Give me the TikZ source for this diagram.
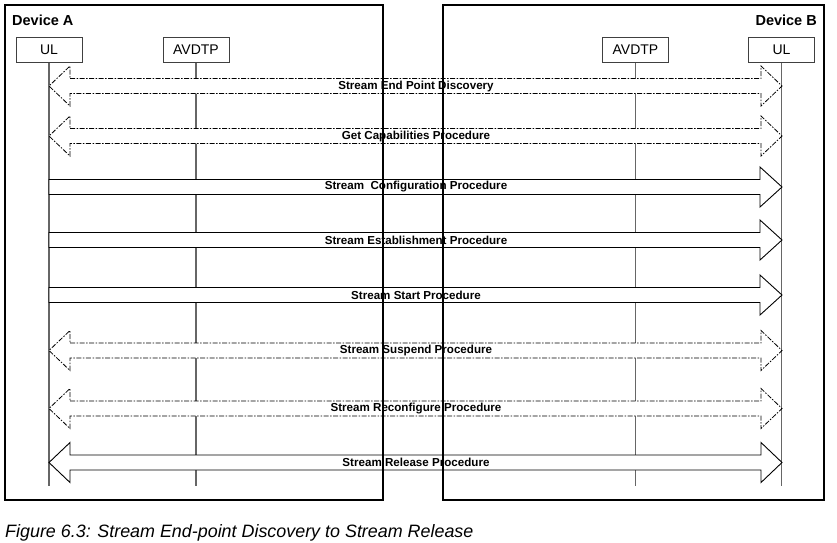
\documentclass[tikz,border=0pt]{standalone}
\usepackage{fontspec}
\setmainfont{Liberation Sans}
\usetikzlibrary{calc}
\newcommand\msgR[4]{% name, y, style, label
  \coordinate (#1L) at (ulAx |- 0,#2);
  \coordinate (#1R) at (ulBx |- 0,#2);
  \draw[#3] ([yshift=7.5pt]#1L) -- ([xshift=-22pt,yshift=7.5pt]#1R)
     -- ([xshift=-22pt,yshift=20pt]#1R) -- (#1R)
     -- ([xshift=-22pt,yshift=-20pt]#1R) -- ([xshift=-22pt,yshift=-7.5pt]#1R)
     -- ([yshift=-7.5pt]#1L) -- cycle;
  \node[lbl] (#1t) at (416,#2) {#4};}
\newcommand\msgD[4]{% name, y, style, label
  \coordinate (#1L) at (ulAx |- 0,#2);
  \coordinate (#1R) at (ulBx |- 0,#2);
  \draw[#3] ([xshift=21pt,yshift=7.5pt]#1L) -- ([xshift=-21pt,yshift=7.5pt]#1R)
     -- ([xshift=-21pt,yshift=20pt]#1R) -- (#1R)
     -- ([xshift=-21pt,yshift=-20pt]#1R) -- ([xshift=-21pt,yshift=-7.5pt]#1R)
     -- ([xshift=21pt,yshift=-7.5pt]#1L) -- ([xshift=21pt,yshift=-20pt]#1L)
     -- (#1L) -- ([xshift=21pt,yshift=20pt]#1L) -- cycle;
  \node[lbl] (#1t) at (416,#2) {#4};}
\begin{document}
\begin{tikzpicture}[x=1pt,y=-1pt,
  device/.style={draw=black,line width=1.4pt},
  hdr/.style={draw=black!75,line width=0.8pt,fill=white,minimum width=66pt,minimum height=25pt,inner sep=0pt,font=\fontsize{14}{16}\selectfont},
  life/.style={draw=black!60,line width=1.5pt},
  solidarrow/.style={draw=black,line width=0.9pt,fill=white,line join=miter},
  dasharrow/.style={draw=black,line width=0.8pt,fill=white,dash pattern=on 5pt off 1.5pt on 1.5pt off 1.5pt},
  lbl/.style={font=\bfseries\fontsize{11.6}{13}\selectfont,inner sep=0pt},
  devlbl/.style={font=\bfseries\fontsize{14.5}{16}\selectfont,inner sep=0pt}]
\useasboundingbox (0,0) rectangle (837,542);
% header boxes
\node[hdr] (ulA) at (49,49.5) {UL};
\node[hdr] (avA) at (196,49.5) {AVDTP};
\node[hdr] (avB) at (635.5,49.5) {AVDTP};
\node[hdr] (ulB) at (781.5,49.5) {UL};
\coordinate (ulAx) at (49,0);
\coordinate (ulBx) at (782,0);
\coordinate (endA1) at (49,486);
\coordinate (endA2) at (196,486);
\coordinate (endB1) at (635.5,486);
\coordinate (endB2) at (782,486);
% lifelines
\draw[life] (ulA.south) -- (ulA.south |- endA1);
\draw[life] (avA.south) -- (avA.south |- endA2);
\draw[life] (avB.south) -- (avB.south |- endB1);
\draw[life] (ulB.south) -- (ulB.south |- endB2);
% messages
\msgD{m1}{86}{dasharrow}{Stream End Point Discovery}
\msgD{m2}{136}{dasharrow}{Get Capabilities Procedure}
\msgR{m3}{187}{solidarrow}{Stream\ \ Configuration Procedure}
\msgR{m4}{240}{solidarrow}{Stream Establishment Procedure}
\msgR{m5}{295}{solidarrow}{Stream Start Procedure}
\msgD{m6}{350.5}{dasharrow}{Stream Suspend Procedure}
\msgD{m7}{408.5}{dasharrow}{Stream Reconfigure Procedure}
\msgD{m8}{462.5}{solidarrow}{Stream Release Procedure}
% device boxes
\draw[device] (5,5) rectangle (383,500);
\draw[device] (443,5) rectangle (824,500);
\node[devlbl,anchor=base west] (devA) at (12,25) {Device A};
\node[devlbl,anchor=base east] (devB) at (817,25) {Device B};
% header boxes redrawn on top
\node[hdr] at (ulA) {UL};
\node[hdr] at (avA) {AVDTP};
\node[hdr] at (avB) {AVDTP};
\node[hdr] at (ulB) {UL};
% caption
\node[anchor=base west,inner sep=0pt,font=\itshape\fontsize{17.9}{20}\selectfont] (cap) at (5,537) {Figure 6.3: Stream End-point Discovery to Stream Release};
\end{tikzpicture}
\end{document}
